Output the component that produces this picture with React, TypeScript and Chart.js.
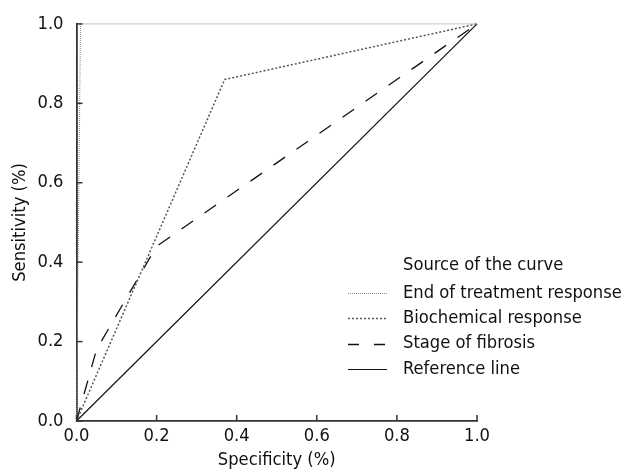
import React, { useEffect, useRef } from "react";
import { Chart, registerables } from "chart.js";

Chart.register(...registerables);

// Data
const endTreatX = [0, 0.01, 1];
const endTreatY = [0, 1, 1];
const biochemX = [0, 0.37, 1];
const biochemY = [0, 0.86, 1];
const fibrosisX = [0, 0.05, 0.2, 1];
const fibrosisY = [0, 0.18, 0.44, 1];
const refX = [0, 1];
const refY = [0, 1];
const tickValues = [0, 0.2, 0.4, 0.6, 0.8, 1.0];
const seriesNames = [
  "End of treatment response",
  "Biochemical response",
  "Stage of fibrosis",
  "Reference line",
];
const legendTitle = "Source of the curve";
const xTitle = "Specificity (%)";
const yTitle = "Sensitivity (%)";

const FONT = "'DejaVu Sans Condensed', 'DejaVu Sans', sans-serif";
const FS = 18.2;

const toPts = (xs: number[], ys: number[]) => xs.map((x, i) => ({ x, y: ys[i] }));

const styles = [
  { color: "#8a8a8a", width: 1, dash: [1, 1] },
  { color: "#555555", width: 1.5, dash: [2, 2] },
  { color: "#111111", width: 1.3, dash: [14, 14] },
  { color: "#111111", width: 1.2, dash: [] as number[] },
];
const legendDash = [[1, 1], [2, 2], [11, 15], []];

const overlay = {
  id: "overlay",
  afterDatasetsDraw(chart: any) {
    const { ctx, chartArea } = chart;
    const xs = chart.scales.x;
    const ys = chart.scales.y;
    ctx.save();
    ctx.strokeStyle = "#333";
    ctx.lineWidth = 1.5;
    ctx.setLineDash([]);
    for (const v of tickValues) {
      const px = xs.getPixelForValue(v);
      ctx.beginPath();
      ctx.moveTo(px, chartArea.bottom);
      ctx.lineTo(px, chartArea.bottom - 6);
      ctx.stroke();
      const py = ys.getPixelForValue(v);
      ctx.beginPath();
      ctx.moveTo(chartArea.left, py);
      ctx.lineTo(chartArea.left + 6, py);
      ctx.stroke();
    }
    // legend
    const textX = chartArea.right - 74;
    const lineX0 = chartArea.right - 129;
    const lineX1 = chartArea.right - 90;
    const titleY = chartArea.bottom - 156;
    ctx.font = `${FS}px ${FONT}`;
    ctx.fillStyle = "#111";
    ctx.textBaseline = "middle";
    ctx.textAlign = "left";
    ctx.fillText(legendTitle, textX, titleY);
    seriesNames.forEach((name, i) => {
      const y = titleY + 28 + i * 25.3;
      ctx.fillText(name, textX, y);
      ctx.beginPath();
      ctx.strokeStyle = styles[i].color;
      ctx.lineWidth = styles[i].width;
      ctx.setLineDash(legendDash[i]);
      ctx.moveTo(lineX0, Math.round(y) + 0.5);
      ctx.lineTo(lineX1, Math.round(y) + 0.5);
      ctx.stroke();
    });
    ctx.restore();
  },
};

export default function App() {
  const ref = useRef<HTMLCanvasElement | null>(null);
  useEffect(() => {
    document.body.style.margin = "0";
    const series = [
      toPts(endTreatX, endTreatY),
      toPts(biochemX, biochemY),
      toPts(fibrosisX, fibrosisY),
      toPts(refX, refY),
    ];
    const chart = new Chart(ref.current!, {
      type: "line",
      data: {
        datasets: series.map((d, i) => ({
          label: seriesNames[i],
          data: d,
          borderColor: styles[i].color,
          borderWidth: styles[i].width,
          borderDash: styles[i].dash,
          pointRadius: 0,
          fill: false,
          tension: 0,
          clip: false as any,
        })),
      },
      options: {
        animation: false,
        responsive: false,
        maintainAspectRatio: false,
        layout: { padding: { top: 21, right: 149, bottom: 0, left: 0 } },
        plugins: { legend: { display: false }, tooltip: { enabled: false } },
        scales: {
          x: {
            type: "linear",
            min: 0,
            max: 1,
            afterFit: (s: any) => { s.height = 49; },
            afterBuildTicks: (s: any) => { s.ticks = tickValues.map((v) => ({ value: v })); },
            grid: { display: false, drawTicks: false },
            border: { display: true, color: "#333", width: 1.8 },
            ticks: {
              color: "#111",
              padding: 4,
              maxRotation: 0,
              font: { family: FONT, size: FS },
              callback: (v: any) => Number(v).toFixed(1),
            },
            title: {
              display: true,
              text: xTitle,
              color: "#111",
              font: { family: FONT, size: FS },
              padding: { top: 0, bottom: -1 },
            },
          },
          y: {
            type: "linear",
            min: 0,
            max: 1,
            afterFit: (s: any) => { s.width = 76.5; },
            afterBuildTicks: (s: any) => { s.ticks = tickValues.map((v) => ({ value: v })); },
            grid: { display: false, drawTicks: false },
            border: { display: true, color: "#333", width: 1.8 },
            ticks: {
              color: "#111",
              padding: 13,
              font: { family: FONT, size: FS },
              callback: (v: any) => Number(v).toFixed(1),
            },
            title: {
              display: true,
              text: yTitle,
              color: "#111",
              font: { family: FONT, size: FS },
              padding: { top: 9, bottom: 0 },
            },
          },
        },
      },
      plugins: [overlay],
    });
    return () => chart.destroy();
  }, []);
  return (
    <div style={{ position: "absolute", left: 0, top: 0, width: 626, height: 470 }}>
      <canvas ref={ref} width={626} height={470} style={{ width: 626, height: 470 }} />
    </div>
  );
}
